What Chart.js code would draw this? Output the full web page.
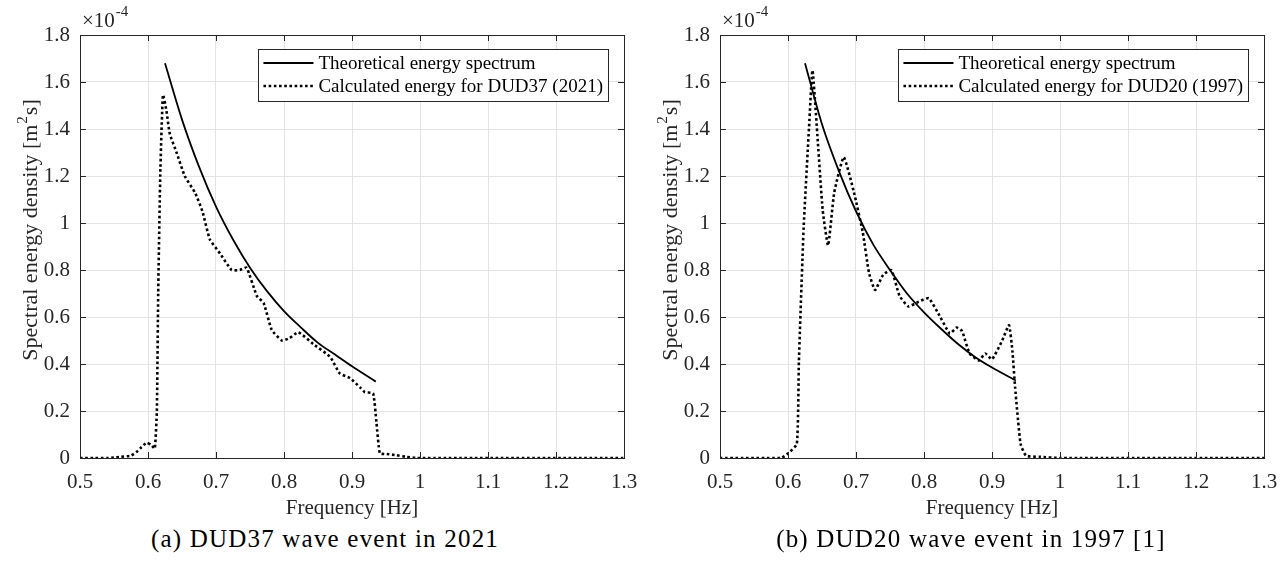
<!DOCTYPE html>
<html>
<head>
<meta charset="utf-8">
<script src="https://cdn.jsdelivr.net/npm/chart.js@4.4.1/dist/chart.umd.min.js"></script>
<style>
  html, body { margin: 0; padding: 0; background: #fff; }
  body { width: 1286px; height: 565px; position: relative; overflow: hidden; }
  canvas { position: absolute; top: 0; }
  #cA { left: 0; }
  #cB { left: 640px; }
  .cap { position: absolute; top: 525px; width: 520px; text-align: center;
         font-family: "Liberation Serif", "Times New Roman", Times, "DejaVu Serif", serif;
         font-size: 25px; color: #000; letter-spacing: 1.2px; }
</style>
</head>
<body>
<canvas id="cA" width="643" height="525"></canvas>
<canvas id="cB" width="643" height="525"></canvas>
<div class="cap" style="left:65px">(a) DUD37 wave event in 2021</div>
<div class="cap" style="left:711px">(b) DUD20 wave event in 1997 [1]</div>
<script>
// Spectral energy density, values in units of 1e-4 m^2 s

// theoretical spectrum
const theoFreqA = [0.625, 0.65, 0.675, 0.70, 0.725, 0.75, 0.775, 0.80, 0.825, 0.85, 0.875, 0.90, 0.935];
const theoValsA = [1.68, 1.44, 1.24, 1.07, 0.93, 0.81, 0.71, 0.625, 0.555, 0.49, 0.44, 0.39, 0.325];
const theoFreqB = [0.625, 0.65, 0.675, 0.70, 0.725, 0.75, 0.775, 0.80, 0.825, 0.85, 0.875, 0.90, 0.935];
const theoValsB = [1.68, 1.42, 1.22, 1.05, 0.91, 0.80, 0.70, 0.62, 0.55, 0.485, 0.43, 0.385, 0.33];

// DUD37 (2021)
const calcFreqA = [0.50, 0.52, 0.54, 0.55, 0.56, 0.575, 0.585, 0.59, 0.598, 0.605, 0.61, 0.613, 0.615, 0.618,
  0.622, 0.627, 0.632, 0.642, 0.654, 0.669, 0.68, 0.691, 0.706, 0.723, 0.735, 0.745, 0.76, 0.77, 0.782,
  0.797, 0.808, 0.821, 0.843, 0.868, 0.882, 0.897, 0.912, 0.919, 0.931, 0.936, 0.941, 0.951, 0.965, 0.98,
  0.995, 1.3];
const calcValsA = [0, 0, 0, 0.002, 0.005, 0.01, 0.03, 0.045, 0.065, 0.055, 0.04, 0.2, 0.7, 1.2,
  1.545, 1.48, 1.38, 1.30, 1.20, 1.13, 1.05, 0.93, 0.87, 0.80, 0.80, 0.81, 0.69, 0.66, 0.545,
  0.50, 0.51, 0.535, 0.485, 0.43, 0.36, 0.34, 0.30, 0.28, 0.275, 0.15, 0.02, 0.017, 0.012, 0.005,
  0, 0];

// DUD20 (1997)
const calcFreqB = [0.50, 0.59, 0.599, 0.613, 0.616, 0.623, 0.631, 0.636, 0.644, 0.651, 0.659, 0.668, 0.682,
  0.697, 0.71, 0.719, 0.728, 0.74, 0.752, 0.764, 0.777, 0.792, 0.807, 0.821, 0.838, 0.848, 0.856, 0.867,
  0.881, 0.89, 0.90, 0.915, 0.925, 0.93, 0.934, 0.942, 0.95, 0.97, 1.0, 1.3];
const calcValsB = [0, 0, 0.017, 0.06, 0.41, 0.98, 1.41, 1.65, 1.34, 1.055, 0.905, 1.13, 1.28,
  1.13, 0.96, 0.79, 0.715, 0.78, 0.80, 0.69, 0.645, 0.665, 0.68, 0.615, 0.53, 0.555, 0.54, 0.445,
  0.415, 0.445, 0.42, 0.50, 0.565, 0.455, 0.30, 0.06, 0.01, 0.005, 0, 0];

const xTicks = [0.5, 0.6, 0.7, 0.8, 0.9, 1.0, 1.1, 1.2, 1.3];
const yTicks = [0, 0.2, 0.4, 0.6, 0.8, 1.0, 1.2, 1.4, 1.6, 1.8];

const FONT = '"Liberation Serif", "Times New Roman", Times, "DejaVu Serif", serif';
const AXIS = '#262626';

const toPts = (xs, ys) => xs.map((x, i) => ({ x, y: ys[i] }));

// box, inward ticks, y title, exponent label and legend (MATLAB look)
const matlabDeco = {
  id: 'matlabDeco',
  afterDraw(chart) {
    const { ctx, chartArea: a, scales } = chart;
    ctx.save();
    ctx.strokeStyle = AXIS;
    ctx.lineWidth = 1;
    ctx.beginPath();
    xTicks.forEach(v => {
      const px = Math.round(scales.x.getPixelForValue(v)) + 0.5;
      ctx.moveTo(px, a.bottom); ctx.lineTo(px, a.bottom - 6);
      ctx.moveTo(px, a.top); ctx.lineTo(px, a.top + 6);
    });
    yTicks.forEach(v => {
      const py = Math.round(scales.y.getPixelForValue(v)) + 0.5;
      ctx.moveTo(a.left, py); ctx.lineTo(a.left + 6, py);
      ctx.moveTo(a.right, py); ctx.lineTo(a.right - 6, py);
    });
    ctx.stroke();
    ctx.strokeRect(Math.round(a.left) + 0.5, Math.round(a.top) + 0.5,
      Math.round(a.right - a.left), Math.round(a.bottom - a.top));

    // y title with superscript
    ctx.fillStyle = '#262626';
    ctx.save();
    ctx.translate(37, 230);
    ctx.rotate(-Math.PI / 2);
    ctx.textBaseline = 'alphabetic';
    const p1 = 'Spectral energy density [m', p2 = '2', p3 = 's]';
    ctx.font = '22px ' + FONT;
    const w1 = ctx.measureText(p1).width, w3 = ctx.measureText(p3).width;
    ctx.font = '15px ' + FONT;
    const w2 = ctx.measureText(p2).width;
    const x0 = -(w1 + w2 + w3 + 2) / 2;
    ctx.font = '22px ' + FONT;
    ctx.fillText(p1, x0, 0);
    ctx.font = '15px ' + FONT;
    ctx.fillText(p2, x0 + w1 + 1, -10);
    ctx.font = '22px ' + FONT;
    ctx.fillText(p3, x0 + w1 + w2 + 2, 0);
    ctx.restore();

    // exponent
    ctx.textBaseline = 'alphabetic';
    ctx.font = '21px ' + FONT;
    ctx.fillText('\u00d710', a.left + 2, a.top - 8);
    const w = ctx.measureText('\u00d710').width;
    ctx.font = '15px ' + FONT;
    ctx.fillText('-4', a.left + 2 + w + 1, a.top - 19);

    // legend
    ctx.font = '19px ' + FONT;
    const labels = chart.data.datasets.map(d => d.label);
    const tw = Math.max(...labels.map(l => ctx.measureText(l).width));
    const bw = 60 + tw + 5;
    const bx = a.right - 16 - bw, by = a.top + 14, bh = 52;
    ctx.fillStyle = '#fff';
    ctx.fillRect(bx, by, bw, bh);
    ctx.strokeStyle = AXIS;
    ctx.lineWidth = 1;
    ctx.strokeRect(Math.round(bx) + 0.5, by + 0.5, Math.round(bw), bh);
    chart.data.datasets.forEach((d, i) => {
      const cy = by + 14 + i * 23;
      ctx.strokeStyle = '#000';
      ctx.lineWidth = d.borderWidth;
      ctx.setLineDash(d.borderDash || []);
      ctx.beginPath();
      ctx.moveTo(bx + 5, cy); ctx.lineTo(bx + 55, cy);
      ctx.stroke();
      ctx.setLineDash([]);
      ctx.fillStyle = '#000';
      ctx.textBaseline = 'middle';
      ctx.fillText(d.label, bx + 60, cy + 1);
    });
    ctx.restore();
  }
};

function makeChart(id, theoF, theoV, calcF, calcV, calcLabel) {
  new Chart(document.getElementById(id), {
    type: 'line',
    data: {
      datasets: [{
        label: 'Theoretical energy spectrum',
        data: toPts(theoF, theoV),
        borderColor: '#000',
        borderWidth: 1.8,
        pointRadius: 0,
        cubicInterpolationMode: 'monotone',
        fill: false,
      }, {
        label: calcLabel,
        data: toPts(calcF, calcV),
        borderColor: '#000',
        borderWidth: 2.6,
        borderDash: [2.6, 2.6],
        pointRadius: 0,
        tension: 0.15,
        fill: false,
      }]
    },
    options: {
      responsive: false,
      devicePixelRatio: 1,
      animation: false,
      layout: { padding: { top: 35, right: 19, left: 0, bottom: 0 } },
      plugins: { legend: { display: false }, tooltip: { enabled: false } },
      scales: {
        x: {
          type: 'linear', min: 0.5, max: 1.3,
          afterFit: s => { s.height = 67; s.paddingLeft = 0; s.paddingRight = 0; },
          afterBuildTicks: s => { s.ticks = xTicks.map(v => ({ value: v })); },
          ticks: { color: '#262626', font: { family: FONT, size: 21 }, padding: 12, maxRotation: 0,
                   callback: v => String(+v.toFixed(1)) },
          grid: { color: '#e4e4e4', drawTicks: false },
          border: { display: false },
          title: { display: true, text: 'Frequency [Hz]', color: '#262626',
                   font: { family: FONT, size: 21 }, padding: { top: 0, bottom: 4 } }
        },
        y: {
          min: 0, max: 1.8,
          afterFit: s => { s.width = 80; s.paddingTop = 0; s.paddingBottom = 0; },
          afterBuildTicks: s => { s.ticks = yTicks.map(v => ({ value: v })); },
          ticks: { color: '#262626', font: { family: FONT, size: 21 }, padding: 10,
                   callback: v => String(+v.toFixed(1)) },
          grid: { color: '#e4e4e4', drawTicks: false },
          border: { display: false },
          title: { display: false }
        }
      }
    },
    plugins: [matlabDeco]
  });
}

function drawAll() {
  makeChart('cA', theoFreqA, theoValsA, calcFreqA, calcValsA, 'Calculated energy for DUD37 (2021)');
  makeChart('cB', theoFreqB, theoValsB, calcFreqB, calcValsB, 'Calculated energy for DUD20 (1997)');
}

if (document.fonts && document.fonts.load) {
  document.fonts.load('21px "Liberation Serif"').then(drawAll, drawAll);
} else {
  drawAll();
}
</script>
</body>
</html>
